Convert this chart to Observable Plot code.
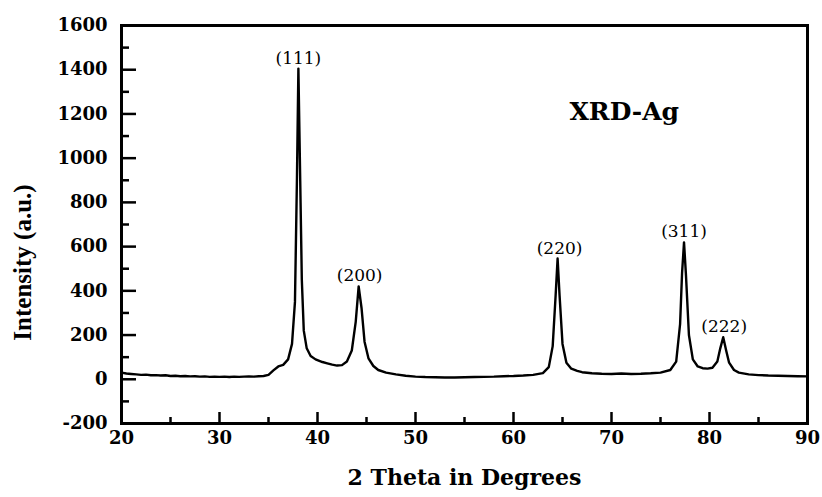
<!DOCTYPE html>
<html>
<head>
<meta charset="utf-8">
<script src="https://cdn.jsdelivr.net/npm/d3@7"></script>
<script src="https://cdn.jsdelivr.net/npm/@observablehq/plot@0.6"></script>
<style>
  html, body { margin: 0; padding: 0; background: #fff; }
  #chart svg { display: block; }
</style>
</head>
<body>
<div id="chart"></div>
<script>
// 2θ (degrees) and intensity (a.u.)
const twoTheta = [20,20.5,21,21.5,22,22.5,23,23.5,24,24.5,25,25.5,26,26.5,27,27.5,28,28.5,29,29.5,30,30.5,31,31.5,32,32.5,33,33.5,34,34.5,35,35.5,36,36.5,37,37.4,37.7,37.9,38.05,38.2,38.4,38.6,38.9,39.3,39.8,40.5,41,41.5,42,42.5,43,43.5,43.9,44.2,44.5,44.8,45.2,45.7,46.2,47,48,49,50,51,52,53,54,55,56,57,58,59,60,61,62,63,63.6,64.0,64.3,64.5,64.7,65.0,65.4,65.9,66.5,67,68,69,70,71,72,73,74,75,76,76.6,77.0,77.2,77.4,77.6,77.9,78.3,78.8,79.3,79.8,80.3,80.8,81.1,81.4,81.7,82.0,82.5,83,84,85,86,87,88,89,90];
const intensity = [30,26,24,22,20,21,18,19,17,18,15,16,14,15,13,14,12,13,11,12,11,12,10,12,11,12,13,12,14,15,20,40,58,65,90,160,350,900,1405,1000,450,220,140,105,90,78,72,66,62,64,80,130,260,420,320,170,95,60,42,30,22,16,12,10,9,8,8,9,10,11,12,14,15,17,20,28,55,150,380,546,380,160,75,48,38,32,27,25,24,26,24,25,27,30,42,80,250,480,619,470,200,90,58,50,48,52,80,140,190,130,75,42,30,22,19,17,16,15,14,13];

const peakLabels = ["(111)", "(200)", "(220)", "(311)", "(222)"];
const peakX = [38.05, 44.3, 64.7, 77.4, 81.5];
const peakY = [1405, 420, 546, 619, 190];

const sampleName = ["XRD-Ag"];
const sampleX = [71.3];
const sampleY = [1211];

const xMajorTicks = [20, 30, 40, 50, 60, 70, 80, 90];
const xMinorTicks = [25, 35, 45, 55, 65, 75, 85];
const yMajorTicks = [-200, 0, 200, 400, 600, 800, 1000, 1200, 1400, 1600];
const yMinorTicks = [-100, 100, 300, 500, 700, 900, 1100, 1300, 1500];

const xTitle = "2 Theta in Degrees";
const yTitle = "Intensity (a.u.)";

const data = twoTheta.map((t, i) => ({t, v: intensity[i]}));
const peaks = peakLabels.map((label, i) => ({label, x: peakX[i], y: peakY[i]}));
const sample = sampleName.map((label, i) => ({label, x: sampleX[i], y: sampleY[i]}));

const tickFont = "DejaVu Serif";

const chart = Plot.plot({
  width: 822,
  height: 497,
  marginLeft: 121,
  marginRight: 15,
  marginTop: 25,
  marginBottom: 74,
  style: {background: "#fff", color: "#000"},
  x: {domain: [20, 90]},
  y: {domain: [-200, 1600]},
  marks: [
    Plot.axisY({ticks: yMinorTicks, tickSize: -8, text: null, strokeWidth: 2.5}),
    Plot.axisY({ticks: yMajorTicks, tickSize: -15, tickPadding: 29, tickFormat: d => String(d),
      fontFamily: tickFont, fontWeight: "bold", fontSize: 18, strokeWidth: 2.5, label: null}),
    Plot.axisX({ticks: xMinorTicks, tickSize: -6, text: null, strokeWidth: 2.5}),
    Plot.axisX({ticks: xMajorTicks, tickSize: -11, tickPadding: 19, tickFormat: d => String(d),
      fontFamily: tickFont, fontWeight: "bold", fontSize: 18, strokeWidth: 2.5, label: null}),
    Plot.line(data, {x: "t", y: "v", stroke: "#000", strokeWidth: 2.4, strokeLinejoin: "round"}),
    Plot.text(peaks, {x: "x", y: "y", text: "label", dy: -5, lineAnchor: "bottom",
      fontFamily: tickFont, fontSize: 17, fill: "#000"}),
    Plot.text(sample, {x: "x", y: "y", text: "label", fontFamily: tickFont, fontWeight: "bold", fontSize: 25, fill: "#000"}),
    Plot.text([xTitle], {frameAnchor: "bottom", dy: 61, fontFamily: tickFont, fontWeight: "bold", fontSize: 22, fill: "#000"}),
    Plot.text([yTitle], {frameAnchor: "left", rotate: -90, textAnchor: "middle", dx: -99, dy: 38, fontFamily: "Liberation Serif", fontWeight: "bold", fontSize: 25, fill: "#000"}),
    Plot.frame({stroke: "#000", strokeWidth: 3})
  ]
});
document.getElementById("chart").appendChild(chart);
</script>
</body>
</html>
